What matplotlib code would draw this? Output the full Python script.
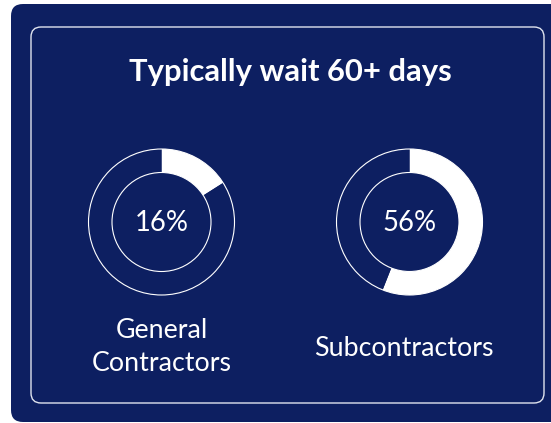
import matplotlib
matplotlib.use("Agg")
import matplotlib.pyplot as plt
from matplotlib.patches import FancyBboxPatch, Circle

plt.rcParams['font.family'] = ['Lato', 'DejaVu Sans']

title = "Typically wait 60+ days"
groups = ["General\nContractors", "Subcontractors"]
shares = [16, 56]

NAVY = '#0d1f61'
W, H = 551, 423

fig = plt.figure(figsize=(W / 100, H / 100), dpi=100)
fig.patch.set_facecolor('white')
ax = fig.add_axes([0, 0, 1, 1])

def Y(y):
    # pixel row (top down) -> data y (bottom up)
    return H - y

# outer navy card, runs past the right edge
ax.add_patch(FancyBboxPatch((11 + 12, Y(422) + 12), 600, 418 - 24,
                            boxstyle="round,pad=12", fc=NAVY, ec='none', zorder=0))
# inner outlined panel
ax.add_patch(FancyBboxPatch((31 + 10, Y(403) + 10), 513 - 20, 376 - 20,
                            boxstyle="round,pad=10", fc='none', ec='#dfe3ee',
                            lw=1.0, zorder=1))

ax.text(290, Y(72), title, ha='center', va='center', color='white',
        fontsize=22.3, fontweight='bold')

centers = [(161.5, Y(222)), (409.5, Y(222))]
r_out, r_in = 73, 49.5
label_y = [Y(347), Y(349)]
for (cx, cy), pct, name, ly in zip(centers, shares, groups, label_y):
    ax.pie([pct, 100 - pct], colors=['white', NAVY], startangle=90,
           counterclock=False, radius=r_out, center=(cx, cy), frame=True,
           wedgeprops=dict(width=r_out - r_in, linewidth=0))
    ax.add_patch(Circle((cx, cy), r_out, fc='none', ec='white', lw=0.8, zorder=3))
    ax.add_patch(Circle((cx, cy), r_in, fc='none', ec='white', lw=0.8, zorder=3))
    ax.text(cx, cy - 1, f"{pct}%", ha='center', va='center', color='white',
            fontsize=19.8)
    ax.text(cx - (6 if '\n' not in name else 0), ly, name, ha='center',
            va='center', color='white', fontsize=19.3, linespacing=1.38)

ax.set_xlim(0, W)
ax.set_ylim(0, H)
ax.set_aspect('equal')
ax.axis('off')

plt.savefig('out.png', dpi=100, facecolor='white')
